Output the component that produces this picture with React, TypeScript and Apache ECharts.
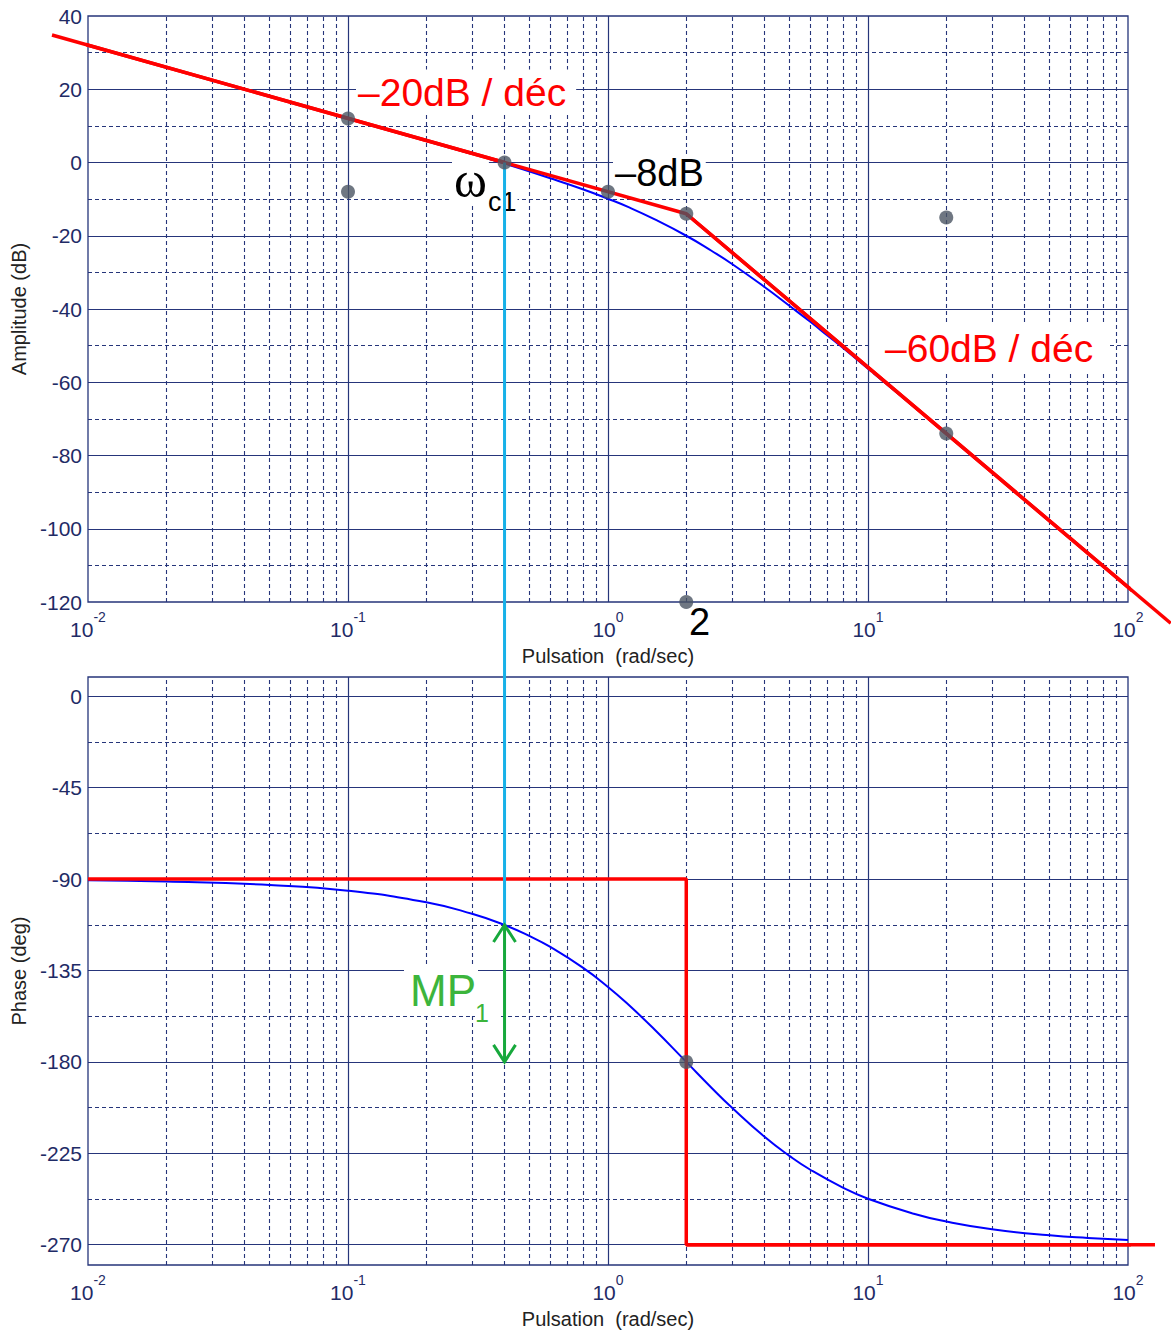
import React, { useEffect, useRef } from "react";
import * as echarts from "echarts";

// ---------- data ----------
const decadeTicks = [0.01, 0.1, 1, 10, 100];
const xMajorGrid = [0.1, 1, 10];
const xMinorGrid = [
  0.02, 0.03, 0.04, 0.05, 0.06, 0.07, 0.08, 0.09,
  0.2, 0.3, 0.4, 0.5, 0.6, 0.7, 0.8, 0.9,
  2, 3, 4, 5, 6, 7, 8, 9,
  20, 30, 40, 50, 60, 70, 80, 90,
];
const magMajorGrid = [20, 0, -20, -40, -60, -80, -100];
const magMinorGrid = [30, 10, -10, -30, -50, -70, -90, -110];
const phaseTicks = [0, -45, -90, -135, -180, -225, -270];
const phaseMajorGrid = [0, -45, -90, -135, -180, -225, -270];
const phaseMinorGrid = [-22.5, -67.5, -112.5, -157.5, -202.5, -247.5];

// actual magnitude curve (dB)
const magFreq = [0.01, 0.03, 0.1, 0.2, 0.4, 0.6, 0.8, 1, 1.2, 1.5, 2, 2.5, 3, 4, 5, 6, 7, 8, 10, 15, 20, 30, 50, 70, 100];
const magActual = [32.0, 22.5, 12.0, 5.9, -0.3, -4.3, -7.3, -9.9, -12.2, -15.4, -20.0, -24.1, -27.7, -34.0, -39.2, -43.5, -47.3, -50.6, -56.3, -66.6, -74.1, -84.6, -97.9, -106.6, -115.9];

// asymptotic magnitude (dB) — first and last points lie outside the plot frame
const magAsymFreq = [0.00727, 0.4, 2, 146];
const magAsymDb = [34.8, 0, -14, -125.8];

// actual phase curve (deg)
const phaseFreq = [0.01, 0.02, 0.05, 0.1, 0.2, 0.3, 0.4, 0.5, 0.6, 0.8, 1, 1.2, 1.5, 2, 2.5, 3, 4, 5, 6, 8, 10, 15, 20, 30, 50, 70, 100];
const phaseActual = [-90.6, -91.2, -92.9, -95.7, -101.4, -107.1, -112.6, -118.1, -123.4, -133.6, -143.1, -151.9, -163.7, -180.0, -192.7, -202.6, -216.9, -226.4, -233.1, -241.9, -247.4, -254.8, -258.6, -262.4, -265.4, -266.7, -267.7];

// asymptotic phase (deg) — last point lies outside the plot frame
const phaseAsymFreq = [0.01, 2, 2, 127];
const phaseAsymDeg = [-90, -90, -270, -270];

// highlighted points
const magDots = [[0.1, 12], [0.1, -8], [0.4, 0], [1, -8], [2, -14], [20, -15], [20, -74], [2, -120]];
const phaseDots = [[2, -180]];

const omegaC1 = 0.4;
const magAtOmegaC1 = 0;
const phaseAtOmegaC1 = -112.6;
const phaseRef = -180;

// axis ranges
const X_MIN = 0.01;
const X_MAX = 100;
const MAG_MIN = -120;
const MAG_MAX = 40;
const PHASE_MIN = -280;
const PHASE_MAX = 9.5;

// ---------- styles ----------
const NAVY = "#26357a";
const LABEL = "#1f2b66";
const FONT = "'Liberation Sans', Arial, sans-serif";
const SERIF = "'Liberation Serif', 'Times New Roman', serif";
const RED = "#ff0000";
const BLUE = "#0000ff";
const CYAN = "#17b1e8";
const GREEN = "#17a83c";
const GREEN_TXT = "#3cb53c";
const DOT = "#4b5563";

const zip = (xs: number[], ys: number[]) => xs.map((x, i) => [x, ys[i]]);

const gridLineSeries = (idx: number, majorY: number[], minorY: number[]) => {
  const solid = { type: "solid", color: NAVY, width: 1.2 };
  const dashed = { type: [4, 3], color: NAVY, width: 1.1 };
  return {
    type: "line",
    xAxisIndex: idx,
    yAxisIndex: idx,
    data: [],
    silent: true,
    z: 1,
    markLine: {
      silent: true,
      symbol: ["none", "none"],
      label: { show: false },
      emphasis: { disabled: true },
      data: [
        ...xMajorGrid.map((v) => ({ xAxis: v, lineStyle: solid })),
        ...xMinorGrid.map((v) => ({ xAxis: v, lineStyle: dashed })),
        ...majorY.map((v) => ({ yAxis: v, lineStyle: solid })),
        ...minorY.map((v) => ({ yAxis: v, lineStyle: dashed })),
      ],
    },
  };
};

const xAxisFor = (idx: number) => ({
  type: "log",
  logBase: 10,
  gridIndex: idx,
  min: X_MIN,
  max: X_MAX,
  name: "Pulsation  (rad/sec)",
  nameLocation: "middle",
  nameGap: 44,
  nameTextStyle: { fontSize: 20, color: "#222", fontFamily: FONT },
  axisLine: { show: false },
  axisTick: { show: false },
  splitLine: { show: false },
  axisLabel: {
    customValues: decadeTicks,
    margin: 8,
    formatter: (v: number) => `{b|10}{s|${Math.round(Math.log10(v))}}`,
    rich: {
      b: { fontSize: 21, color: LABEL, fontFamily: FONT, verticalAlign: "bottom", lineHeight: 30 },
      s: { fontSize: 14, color: LABEL, fontFamily: FONT, verticalAlign: "top", lineHeight: 14 },
    },
  },
});

const option = {
  animation: false,
  backgroundColor: "#ffffff",
  grid: [
    { left: 88, top: 16, width: 1040, height: 586, show: true, borderColor: NAVY, borderWidth: 1.3, backgroundColor: "transparent" },
    { left: 88, top: 677, width: 1040, height: 588, show: true, borderColor: NAVY, borderWidth: 1.3, backgroundColor: "transparent" },
  ],
  xAxis: [xAxisFor(0), xAxisFor(1)],
  yAxis: [
    {
      type: "value",
      gridIndex: 0,
      min: MAG_MIN,
      max: MAG_MAX,
      interval: 20,
      name: "Amplitude (dB)",
      nameLocation: "middle",
      nameGap: 58,
      nameTextStyle: { fontSize: 20, color: "#222", fontFamily: FONT },
      axisLine: { show: false },
      axisTick: { show: false },
      splitLine: { show: false },
      axisLabel: { fontSize: 21, color: LABEL, fontFamily: FONT, margin: 6 },
    },
    {
      type: "value",
      gridIndex: 1,
      min: PHASE_MIN,
      max: PHASE_MAX,
      name: "Phase (deg)",
      nameLocation: "middle",
      nameGap: 58,
      nameTextStyle: { fontSize: 20, color: "#222", fontFamily: FONT },
      axisLine: { show: false },
      axisTick: { show: false },
      splitLine: { show: false },
      axisLabel: { customValues: phaseTicks, fontSize: 21, color: LABEL, fontFamily: FONT, margin: 6 },
    },
  ],
  series: [
    gridLineSeries(0, magMajorGrid, magMinorGrid),
    gridLineSeries(1, phaseMajorGrid, phaseMinorGrid),
    {
      type: "line",
      xAxisIndex: 0,
      yAxisIndex: 0,
      data: zip(magFreq, magActual),
      smooth: true,
      showSymbol: false,
      lineStyle: { color: BLUE, width: 2 },
      z: 5,
      silent: true,
    },
    {
      type: "line",
      xAxisIndex: 0,
      yAxisIndex: 0,
      data: zip(magAsymFreq, magAsymDb),
      showSymbol: false,
      clip: false,
      lineStyle: { color: RED, width: 3.5 },
      z: 8,
      silent: true,
    },
    {
      type: "line",
      xAxisIndex: 1,
      yAxisIndex: 1,
      data: zip(phaseFreq, phaseActual),
      smooth: true,
      showSymbol: false,
      lineStyle: { color: BLUE, width: 2 },
      z: 5,
      silent: true,
    },
    {
      type: "line",
      xAxisIndex: 1,
      yAxisIndex: 1,
      data: zip(phaseAsymFreq, phaseAsymDeg),
      showSymbol: false,
      clip: false,
      lineStyle: { color: RED, width: 3.5 },
      z: 8,
      silent: true,
    },
    {
      type: "line",
      xAxisIndex: 1,
      yAxisIndex: 1,
      data: [[omegaC1, phaseAtOmegaC1], [omegaC1, phaseRef]],
      showSymbol: false,
      lineStyle: { color: GREEN, width: 3 },
      z: 9,
      silent: true,
    },
    {
      type: "scatter",
      xAxisIndex: 0,
      yAxisIndex: 0,
      data: magDots,
      symbolSize: 14,
      clip: false,
      itemStyle: { color: DOT },
      z: 20,
      silent: true,
    },
    {
      type: "scatter",
      xAxisIndex: 1,
      yAxisIndex: 1,
      data: phaseDots,
      symbolSize: 14,
      clip: false,
      itemStyle: { color: DOT },
      z: 20,
      silent: true,
    },
  ],
};

const txt = (
  text: string,
  x: number,
  y: number,
  fontSize: number,
  fill: string,
  family: string,
  bg: boolean,
  padding: number[] = [2, 4, 2, 4]
) => ({
  type: "text",
  x,
  y,
  z: 7,
  silent: true,
  style: {
    text,
    fill,
    fontSize,
    fontFamily: family,
    align: "left",
    verticalAlign: "middle",
    backgroundColor: bg ? "#ffffff" : undefined,
    padding: bg ? padding : undefined,
  },
});

export default function App() {
  const ref = useRef<HTMLDivElement>(null);
  useEffect(() => {
    if (!ref.current) return;
    const chart = echarts.init(ref.current, null, { renderer: "svg" });
    chart.setOption(option as any);

    const conv = (gi: number, p: number[]) =>
      chart.convertToPixel({ gridIndex: gi } as any, p) as number[];

    // extended (unclamped) scale mapping, anchored on the axes' own extents
    const yExt = [
      [MAG_MIN, MAG_MAX],
      [PHASE_MIN, PHASE_MAX],
    ];
    const toPx = (gi: number, x: number, y: number) => {
      const [yA, yB] = yExt[gi];
      const a = conv(gi, [X_MIN, yA]);
      const b = conv(gi, [X_MAX, yB]);
      const lx0 = Math.log10(X_MIN);
      const lx1 = Math.log10(X_MAX);
      const px = a[0] + ((Math.log10(x) - lx0) * (b[0] - a[0])) / (lx1 - lx0);
      const py = a[1] + ((y - yA) * (b[1] - a[1])) / (yB - yA);
      return [px, py];
    };

    const a = conv(0, [omegaC1, magAtOmegaC1]);
    const b = conv(1, [omegaC1, phaseAtOmegaC1]);
    const c = conv(1, [omegaC1, phaseRef]);
    const aw = 11;
    const ah = 17;

    const redExt = (gi: number, xs: number[], ys: number[], i0: number, i1: number) => ({
      type: "polyline",
      z: 8,
      silent: true,
      shape: { points: [toPx(gi, xs[i0], ys[i0]), toPx(gi, xs[i1], ys[i1])] },
      style: { stroke: RED, lineWidth: 3.5, fill: null },
    });
    const nM = magAsymFreq.length;
    const nP = phaseAsymFreq.length;

    chart.setOption({
      graphic: [
        redExt(0, magAsymFreq, magAsymDb, 0, 1),
        redExt(0, magAsymFreq, magAsymDb, nM - 2, nM - 1),
        redExt(1, phaseAsymFreq, phaseAsymDeg, nP - 2, nP - 1),
        txt("–20dB / déc", 356, 92, 39, RED, FONT, true, [3, 10, 3, 2]),
        txt("–60dB / déc", 871, 348, 39, RED, FONT, true, [6, 14, 6, 14]),
        txt("–8dB", 613, 173, 38, "#000", FONT, true, [0, 2, 0, 2]),
        txt("ω", 452, 180, 50, "#000", SERIF, true, [0, 2, 0, 2]),
        txt("c1", 487, 202, 27, "#000", FONT, true, [0, 1, 0, 1]),
        txt("2", 689, 622, 38, "#000", FONT, false),
        txt("MP", 404, 990, 44, GREEN_TXT, FONT, true, [2, 2, 2, 6]),
        txt("1", 475, 1013, 25, GREEN_TXT, FONT, true, [0, 12, 0, 0]),
        {
          type: "line",
          z: 9,
          silent: true,
          shape: { x1: a[0], y1: a[1], x2: b[0], y2: b[1] },
          style: { stroke: CYAN, lineWidth: 3 },
        },
        {
          type: "polyline",
          z: 10,
          silent: true,
          shape: { points: [[b[0] - aw, b[1] + ah], [b[0], b[1]], [b[0] + aw, b[1] + ah]] },
          style: { stroke: GREEN, lineWidth: 3, fill: null },
        },
        {
          type: "polyline",
          z: 10,
          silent: true,
          shape: { points: [[c[0] - aw, c[1] - ah], [c[0], c[1]], [c[0] + aw, c[1] - ah]] },
          style: { stroke: GREEN, lineWidth: 3, fill: null },
        },
      ],
    } as any);
    return () => chart.dispose();
  }, []);
  return (
    <div
      ref={ref}
      style={{ position: "fixed", left: 0, top: 0, width: 1171, height: 1335, background: "#fff" }}
    />
  );
}
